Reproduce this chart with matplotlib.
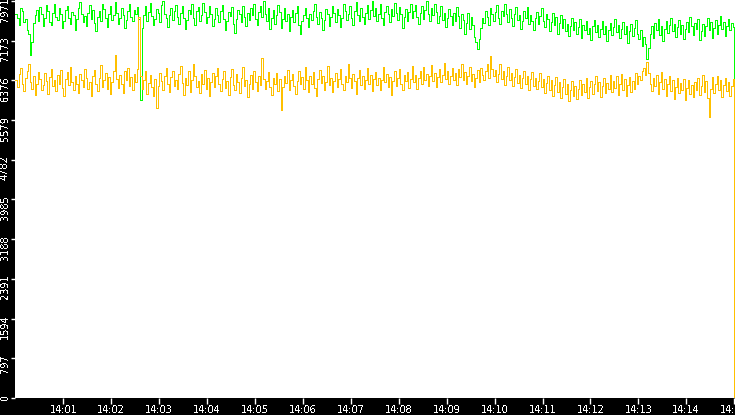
import matplotlib
matplotlib.use("Agg")
import matplotlib.pyplot as plt
import matplotlib.transforms as mtransforms
import numpy as np

# one sample every 2 seconds from 14:00:00, last sample at 14:15:00
step_s = 2

green = [
    7700, 7620, 7480, 7820, 7760, 7550, 7600, 7380, 7300, 6890, 7150, 7520, 7680, 7790, 7560, 7840, 7700, 7460, 7620, 7880, 7760, 7540, 7480, 7720, 7900,
    7640, 7580, 7820, 7700, 7420, 7560, 7780, 7860, 7620, 7500, 7740, 7680, 7380, 7600, 7820, 7940, 7700, 7540, 7660, 7460, 7720, 7880, 7600, 7780, 7520,
    7360, 7640, 7760, 7560, 7900, 7800, 7620, 7440, 7700, 7860, 7580, 7680, 7940, 7720, 7500, 7620, 7820, 7680, 7420, 7580, 7760, 7900, 7640, 7560, 7780,
    7700, 7840, 7600, 5980, 7420, 7680, 7860, 7560, 7740, 7920, 7660, 7480, 7600, 7800, 7720, 7540, 7880, 7960, 7700, 7620, 7440, 7680, 7820, 7580, 7760,
    7880, 7640, 7500, 7720, 7860, 7620, 7400, 7580, 7780, 7700, 7900, 7620, 7480, 7760, 7840, 7560, 7680, 7920, 7740, 7520, 7640, 7860, 7700, 7460, 7600,
    7820, 7680, 7540, 7760, 7880, 7600, 7380, 7560, 7740, 7660, 7840, 7500, 7320, 7600, 7780, 7700, 7540, 7860, 7640, 7460, 7720, 7580, 7820, 7680, 7900,
    7600, 7480, 7740, 7860, 7640, 7970, 7700, 7560, 7820, 7400, 7620, 7780, 7500, 7680, 7880, 7740, 7420, 7600, 7820, 7560, 7700, 7360, 7640, 7780, 7540,
    7720, 7860, 7480, 7300, 7560, 7680, 7820, 7620, 7440, 7700, 7580, 7760, 7900, 7640, 7500, 7740, 7620, 7380, 7580, 7800, 7700, 7460, 7640, 7860, 7720,
    7540, 7800, 7680, 7440, 7620, 7900, 7760, 7580, 7700, 7860, 7620, 7480, 7760, 7940, 7680, 7560, 7820, 7640, 7500, 7720, 7880, 7600, 7780, 7960, 7660,
    7820, 7560, 7700, 7900, 7620, 7480, 7740, 7860, 7700, 7540, 7800, 7660, 7920, 7720, 7580, 7840, 7700, 7420, 7640, 7800, 7560, 7740, 7900, 7620, 7760,
    7880, 7640, 7500, 7720, 7860, 7600, 7780, 7960, 7700, 7560, 7820, 7680, 7900, 7740, 7520, 7660, 7860, 7580, 7720, 7440, 7620, 7800, 7660, 7480, 7720,
    7560, 7840, 7660, 7420, 7700, 7580, 7300, 7520, 7720, 7400, 7640, 7480, 7250, 7150, 7000, 7200, 7420, 7620, 7520, 7760, 7640, 7480, 7820, 7700, 7560,
    7740, 7880, 7620, 7500, 7760, 7660, 7900, 7700, 7540, 7800, 7620, 7460, 7700, 7840, 7580, 7680, 7400, 7560, 7760, 7620, 7840, 7500, 7680, 7560, 7380,
    7620, 7740, 7500, 7660, 7820, 7560, 7440, 7700, 7600, 7360, 7540, 7720, 7480, 7640, 7300, 7520, 7680, 7420, 7600, 7360, 7500, 7260, 7460, 7620, 7380,
    7540, 7300, 7440, 7600, 7220, 7480, 7380, 7560, 7300, 7420, 7180, 7460, 7580, 7340, 7480, 7240, 7400, 7560, 7300, 7460, 7160, 7380, 7520, 7280, 7440,
    7600, 7340, 7480, 7220, 7400, 7540, 7300, 7460, 7120, 7360, 7500, 7260, 7420, 7580, 7300, 7200, 7380, 7060, 7240, 7100, 6800, 7020, 7300, 7460, 7220,
    7520, 7380, 7600, 7280, 7460, 7160, 7400, 7560, 7320, 7480, 7620, 7360, 7500, 7240, 7440, 7580, 7300, 7480, 7200, 7400, 7540, 7340, 7640, 7460, 7280,
    7520, 7400, 7600, 7180, 7360, 7500, 7260, 7460, 7620, 7380, 7540, 7220, 7420, 7580, 7300, 7480, 7660, 7400, 7540, 7260, 7460, 7600, 7380, 7520, 7440,
    2650,
]

yellow = [
    6380, 6240, 6500, 6620, 6300, 6160, 6420, 6560, 6700, 6340, 6200, 6460, 6080, 6300, 6540, 6400, 6180, 6280, 6520, 6360, 6100, 6440, 6600, 6260, 6380,
    6160, 6480, 6300, 6580, 6220, 6060, 6400, 6540, 6280, 6640, 6340, 6180, 6460, 6300, 6120, 6500, 6380, 6240, 6600, 6420, 6200, 6340, 6060, 6460, 6580,
    6300, 6160, 6420, 6680, 6240, 6380, 6520, 6200, 6440, 6100, 6340, 6560, 6890, 6400, 6220, 6480, 6300, 6120, 6560, 6380, 6620, 6260, 6440, 6180, 6500,
    6340, 6600, 7650, 6460, 6200, 6380, 6560, 6100, 6320, 6480, 6240, 6060, 6400, 5820, 6260, 6520, 6360, 6180, 6460, 6620, 6300, 6140, 6440, 6560, 6260,
    6380, 6200, 6500, 6660, 6320, 6080, 6420, 6280, 6560, 6140, 6380, 6700, 6460, 6240, 6360, 6120, 6500, 6300, 6580, 6200, 6420, 6060, 6340, 6520, 6240,
    6460, 6620, 6300, 6160, 6400, 6560, 6220, 6360, 6080, 6440, 6600, 6280, 6180, 6500, 6340, 6120, 6420, 6640, 6260, 6380, 6040, 6300, 6480, 6200, 6560,
    6340, 6160, 6460, 6280, 6820, 6400, 6200, 6360, 6540, 6240, 6080, 6420, 6300, 6520, 6160, 6400, 5780, 6240, 6460, 6320, 6580, 6180, 6380, 6500, 6260,
    6100, 6360, 6560, 6300, 6440, 6200, 6640, 6380, 6140, 6460, 6300, 6540, 6220, 6060, 6400, 6580, 6320, 6460, 6180, 6340, 6660, 6280, 6420, 6140, 6360,
    6520, 6240, 6400, 6600, 6300, 6180, 6460, 6340, 6700, 6420, 6220, 6500, 6360, 6100, 6420, 6580, 6280, 6460, 6200, 6380, 6620, 6300, 6480, 6160, 6400,
    6540, 6280, 6420, 6180, 6380, 6640, 6340, 6500, 6240, 6440, 6080, 6360, 6560, 6260, 6420, 6600, 6300, 6180, 6480, 6360, 6540, 6220, 6400, 6660, 6340,
    6480, 6200, 6420, 6560, 6300, 6640, 6380, 6500, 6260, 6460, 6680, 6360, 6520, 6240, 6440, 6600, 6340, 6480, 6720, 6400, 6560, 6300, 6460, 6620, 6380,
    6520, 6280, 6600, 6440, 6700, 6380, 6540, 6300, 6460, 6640, 6360, 6500, 6240, 6420, 6580, 6340, 6620, 6480, 6380, 6560, 6700, 6420, 6870, 6600, 6460,
    6580, 6340, 6500, 6700, 6400, 6560, 6280, 6460, 6640, 6380, 6520, 6260, 6440, 6600, 6320, 6480, 6220, 6420, 6560, 6300, 6460, 6180, 6400, 6540, 6260,
    6420, 6200, 6360, 6520, 6240, 6400, 6120, 6320, 6460, 6180, 6380, 6060, 6280, 6440, 6140, 6340, 6020, 6240, 6400, 6100, 6300, 5960, 6180, 6360, 6060,
    6260, 6000, 6200, 6380, 6080, 6300, 6140, 6420, 6020, 6240, 6360, 6100, 6300, 6460, 6160, 6340, 6040, 6260, 6420, 6120, 6320, 6200, 6480, 6140, 6360,
    6220, 6460, 6080, 6300, 6500, 6180, 6400, 6060, 6280, 6440, 6140, 6360, 6200, 6520, 6300, 6460, 6380, 6560, 6620, 6480, 6750, 6520, 6300, 6160, 6420,
    6260, 6480, 6100, 6340, 6540, 6200, 6400, 6060, 6300, 6460, 6160, 6380, 6000, 6240, 6420, 6120, 6320, 6180, 6400, 5980, 6220, 6380, 6100, 6280, 6040,
    6340, 6180, 6420, 6080, 6260, 6480, 6140, 6360, 6020, 5640, 6200, 6440, 6120, 6300, 6460, 6180, 6380, 6040, 6280, 6420, 6160, 6340, 6060, 6260, 6400,
    0,
]

x_labels = ["14:%02d" % m for m in range(1, 16)]
y_step = 797.1

plt.rcParams["text.antialiased"] = False

fig = plt.figure(figsize=(7.35, 4.15), dpi=100, facecolor="black")
ax = fig.add_axes([15.5 / 735, 17 / 415, 719.5 / 735, 398 / 415])
ax.set_facecolor("white")

t = np.arange(len(green)) * step_s
ax.plot(t, green, color="#00ff00", lw=0.72, antialiased=False, drawstyle="steps-post")
ax.plot(t, yellow, color="#ffc000", lw=0.72, antialiased=False, drawstyle="steps-post")

ax.set_xlim(0, 901)
ax.set_ylim(0, 7990)

ax.set_xticks(np.arange(1, 16) * 60)
ax.set_xticklabels(x_labels)
yt = np.arange(11) * y_step
ax.set_yticks(yt)
ax.set_yticklabels([str(int(v)) for v in yt])

for s in ax.spines.values():
    s.set_visible(False)

ax.tick_params(axis="x", colors="white", length=4, width=1, pad=1, labelsize=7)
ax.tick_params(axis="y", colors="white", length=3, width=1, pad=1, labelsize=7)

shift = mtransforms.ScaledTranslation(0, 3 / 72, fig.dpi_scale_trans)
for lab in ax.get_yticklabels():
    lab.set_rotation(90)
    lab.set_va("top")
    lab.set_transform(lab.get_transform() + shift)

fig.savefig("out.png", dpi=100, facecolor="black")
